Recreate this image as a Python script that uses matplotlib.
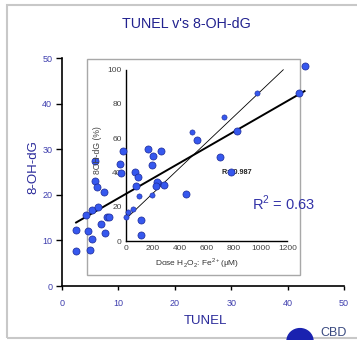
import numpy as np
import matplotlib
matplotlib.use("Agg")
import matplotlib.pyplot as plt
from matplotlib.patches import Rectangle, Circle

plt.rcParams['font.family'] = ['Liberation Sans', 'DejaVu Sans']
plt.rcParams['mathtext.fontset'] = 'custom'
plt.rcParams['mathtext.rm'] = 'Liberation Sans'

# ---- data ----
tunel = [2.5, 2.5, 4.3, 4.6, 5.0, 5.4, 5.3, 5.8, 5.9, 6.2, 6.3, 6.9, 7.4, 7.6,
         8.0, 8.3, 10.2, 10.4, 10.9, 13.0, 13.5, 13.1, 14.0, 14.0, 15.3, 16.2,
         16.0, 16.8, 16.6, 17.6, 18.0, 22.0, 24.0, 28.0, 30.0, 31.0, 42.0, 43.0]
ohdg = [12.3, 7.6, 15.6, 12.0, 7.9, 10.2, 16.7, 27.4, 23.1, 21.7, 17.3, 13.5,
        20.6, 11.6, 15.1, 15.2, 26.8, 24.7, 29.5, 25.1, 24.0, 21.9, 14.5, 11.1,
        30.0, 28.4, 26.6, 22.8, 21.9, 29.5, 22.1, 20.2, 32.1, 28.2, 25.0, 34.1,
        42.3, 48.2]

dose = [2, 19, 52, 99, 193, 248, 493, 731, 976]
ohdg_pct = [13.8, 16.8, 18.7, 26.3, 27.0, 33.7, 63.8, 72.4, 86.4]
# trendline of the inset as printed in the original (slope, intercept)
inset_trend = [0.0745, 12.8]
inset_trend_range = [0, 1170]

main_ticks = [0, 10, 20, 30, 40, 50]
inset_xticks = [0, 200, 400, 600, 800, 1000, 1200]
inset_yticks = [0, 20, 40, 60, 80, 100]

W, H = 357, 340
fig = plt.figure(figsize=(W / 100, H / 100), dpi=100)
fig.patch.set_facecolor('white')

def fx(x):
    return x / W

def fy(y):
    return 1 - y / H

# outer chart border
fig.patches.append(Rectangle((fx(7), fy(338)), fx(360) - fx(7), fy(5) - fy(338),
                             transform=fig.transFigure, fill=False,
                             ec='#c8c8c8', lw=1.5, zorder=0))

pt_face = '#3658ee'
pt_edge = '#1c2a96'
blue_txt = '#2a2a9a'
tick_blue = '#3f3fae'

# ---- inset ----
ax_in = fig.add_axes([fx(125.7), fy(241), (287.3 - 125.7) / W, (241 - 69.7) / H], zorder=1)
ax_in.set_facecolor('none')
ax_in.set_xlim(0, 1200)
ax_in.set_ylim(0, 100)
ax_in.set_xticks(inset_xticks)
ax_in.set_yticks(inset_yticks)
for s in ['top', 'right']:
    ax_in.spines[s].set_visible(False)
for s in ['left', 'bottom']:
    ax_in.spines[s].set_linewidth(1.0)
    ax_in.spines[s].set_color('black')
ax_in.tick_params(length=0, labelsize=6, colors='#444444', pad=3)
ax_in.scatter(dose, ohdg_pct, s=14, color=pt_face, edgecolors=pt_edge,
              linewidths=0.4, zorder=3, clip_on=False)
xi = np.array(inset_trend_range)
ax_in.plot(xi, np.polyval(inset_trend, xi), color='black', lw=0.6, zorder=2, clip_on=False)

fig.text(fx(97.5), fy(150), '8OH-dG (%)', rotation=90, fontsize=6.2,
         color='#444444', ha='center', va='center')
fig.text(fx(197.5), fy(263), 'Dose H$_2$O$_2$: Fe$^{2+}$(µM)', fontsize=6,
         color='#333333', ha='center', va='center')
fig.text(fx(222), fy(173), 'R= 0.987', fontsize=5.2, fontweight='bold',
         color='#222222', ha='left', va='center', zorder=1)

# inset box
fig.patches.append(Rectangle((fx(87.3), fy(275.3)), (299.5 - 87.3) / W, (275.3 - 59) / H,
                             transform=fig.transFigure, fill=False,
                             ec='#a8a8a8', lw=1.0, zorder=1))

# ---- main ----
ax = fig.add_axes([fx(62), fy(286), 282 / W, 228 / H], zorder=3)
ax.set_facecolor('none')
ax.set_xlim(0, 50)
ax.set_ylim(0, 50)
ax.set_xticks(main_ticks)
ax.set_yticks(main_ticks)
for s in ['top', 'right']:
    ax.spines[s].set_visible(False)
for s in ['left', 'bottom']:
    ax.spines[s].set_linewidth(1.2)
    ax.spines[s].set_color('black')
ax.tick_params(axis='x', length=3, width=1, pad=6, labelsize=6.5, labelcolor=tick_blue)
ax.tick_params(axis='y', length=4, width=1, pad=3, labelsize=6.5, labelcolor=tick_blue)
ax.scatter(tunel, ohdg, s=26, color=pt_face, edgecolors=pt_edge,
           linewidths=0.5, zorder=4, clip_on=False)
c2 = np.polyfit(tunel, ohdg, 1)
xm = np.array([min(tunel), max(tunel)])
ax.plot(xm, np.polyval(c2, xm), color='black', lw=1.4, zorder=3, clip_on=False)

fig.text(fx(186), fy(24), "TUNEL v's 8-OH-dG", fontsize=10.3, color='#22228f',
         ha='center', va='center')
fig.text(fx(205), fy(321), 'TUNEL', fontsize=9.5, color=blue_txt,
         ha='center', va='center')
fig.text(fx(33), fy(167), '8-OH-dG', fontsize=9.5, color=blue_txt, rotation=90,
         ha='center', va='center')
fig.text(fx(251.7), fy(203), 'R$^2$ = 0.63', fontsize=10.5, color='#3333a8',
         ha='left', va='center', zorder=5)

# logo (partial, bottom right)
fig.patches.append(Circle((fx(300), fy(341)), 13 / W, transform=fig.transFigure,
                          color='#1a22b0', zorder=5))
fig.text(fx(320), fy(339), 'CBD', fontsize=9, color='#3a4a80',
         ha='left', va='bottom', zorder=5)

fig.savefig('out.png', dpi=100)
